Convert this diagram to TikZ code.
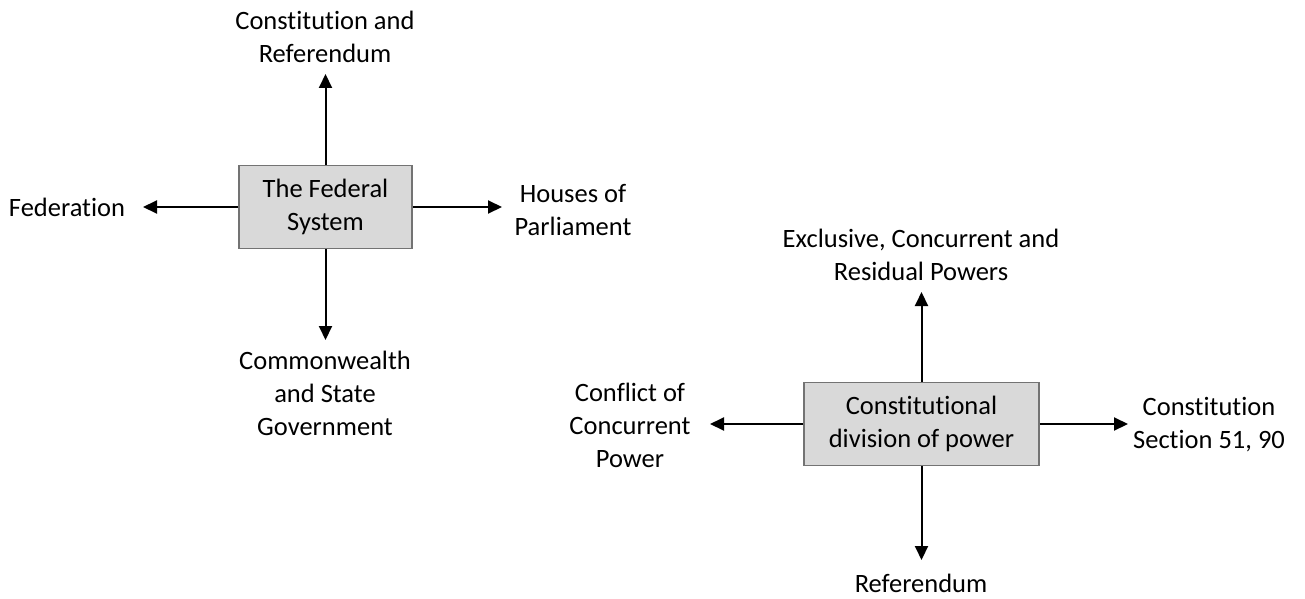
\documentclass[tikz,border=0pt]{standalone}
\usepackage{fontspec}
\setmainfont{Carlito}[Ligatures=NoCommon]
\usetikzlibrary{arrows.meta}
\begin{document}
\begin{tikzpicture}[x=1pt,y=-1pt,
  txt/.style={align=center,inner sep=0pt,font=\fontsize{26.5}{33}\selectfont},
  hub/.style={txt,draw=black!55,line width=1.5pt,fill=black!15,minimum width=#1,minimum height=83pt},
  arr/.style={line width=2pt,-{Triangle[length=14pt,width=13pt]}}]
\useasboundingbox (0,0) rectangle (1305,599);
% left diagram
\node[hub=173pt] (fs) at (325.5,207) {The Federal\\System};
\node[txt] (t1) at (325,37) {Constitution and\\Referendum};
\node[txt] (l1) at (67,207) {Federation};
\node[txt] (r1) at (573,210) {Houses of\\Parliament};
\node[txt] (b1) at (325,393) {Commonwealth\\and State\\Government};
\coordinate (t1tip) at (325.5,74);
\coordinate (l1tip) at (143,207);
\coordinate (r1tip) at (502,207);
\coordinate (b1tip) at (325.5,340);
\draw[arr] (fs.north) -- (t1tip);
\draw[arr] (fs.west) -- (l1tip);
\draw[arr] (fs.east) -- (r1tip);
\draw[arr] (fs.south) -- (b1tip);
% right diagram
\node[hub=235pt] (cd) at (921.5,424) {Constitutional\\division of power};
\node[txt] (t2) at (921,255) {Exclusive, Concurrent and\\Residual Powers};
\node[txt] (l2) at (630,425) {Conflict of\\Concurrent\\Power};
\node[txt] (r2) at (1209,425) {Constitution\\Section 51, 90};
\node[txt] (b2) at (921,583) {Referendum};
\coordinate (t2tip) at (921.5,292);
\coordinate (l2tip) at (710,424);
\coordinate (r2tip) at (1128,424);
\coordinate (b2tip) at (921.5,560);
\draw[arr] (cd.north) -- (t2tip);
\draw[arr] (cd.west) -- (l2tip);
\draw[arr] (cd.east) -- (r2tip);
\draw[arr] (cd.south) -- (b2tip);
\end{tikzpicture}
\end{document}
